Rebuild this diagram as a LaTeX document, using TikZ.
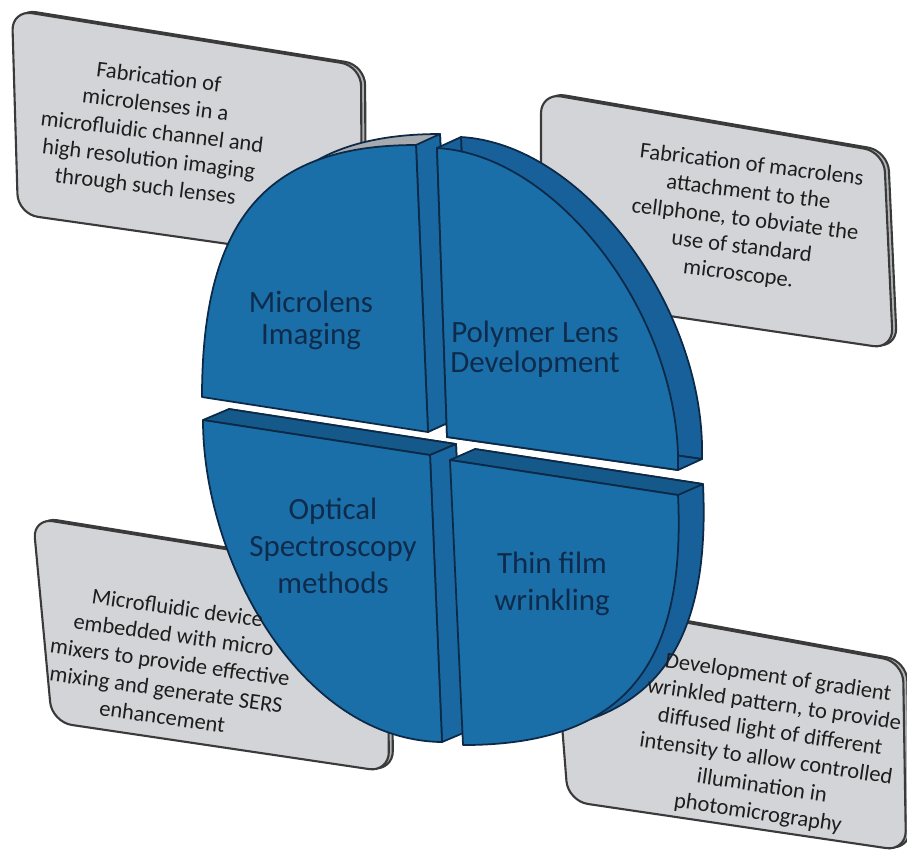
\documentclass[tikz,border=0pt]{standalone}
\usepackage{fontspec}
\setmainfont{Carlito}
\definecolor{discfront}{HTML}{1A6FA8}
\definecolor{discside}{HTML}{17609A}
\definecolor{disccut}{HTML}{1968A1}
\definecolor{disctop}{HTML}{15598A}
\definecolor{topgray}{HTML}{A7AAAE}
\definecolor{discline}{HTML}{0C2A47}
\definecolor{labelnavy}{HTML}{0F2B4C}
\definecolor{cardgray}{HTML}{D3D4D7}
\definecolor{cardedge}{HTML}{B4B5B8}
\definecolor{cardline}{HTML}{3A3A3A}
\definecolor{notetext}{HTML}{1E1E1E}
\begin{document}
\begin{tikzpicture}[x=0.01cm,y=-0.01cm,
  card/.style={fill=cardgray,draw=cardline,line width=0.6pt,rounded corners=0.2cm,line join=round},
  cardback/.style={card,fill=cardedge},
  front/.style={fill=discfront,draw=discline,line width=0.5pt,line join=round},
  rim/.style={fill=discside,draw=discline,line width=0.5pt,line join=round},
  cutface/.style={fill=disccut,draw=discline,line width=0.5pt,line join=round},
  topface/.style={fill=disctop,draw=discline,line width=0.5pt,line join=round},
  grayrim/.style={fill=topgray,draw=discline,line width=0.5pt,line join=round},
  label/.style={text=labelnavy,align=center,inner sep=0pt},
  note/.style={text=notetext,align=center,inner sep=0pt,font=\fontsize{6.4}{7.8}\selectfont}]

\useasboundingbox (0,0) rectangle (907,853);

% ---- callout cards (drawn behind the disc) ----
\def\cardA{(12,10) -- (361,66) -- (362,263) -- (18,214) -- cycle}
\def\cardB{(541,93) -- (884,152) -- (893,349) -- (541,297) -- cycle}
\def\cardC{(33,518) -- (387,575) -- (389,772) -- (52,722) -- cycle}
\def\cardD{(552,598) -- (903,662) -- (906,851) -- (568,801) -- cycle}
\draw[cardback,shift={(4,-1)}] \cardA;  \draw[card] \cardA;
\draw[cardback,shift={(4,-1)}] \cardB;  \draw[card] \cardB;
\draw[cardback,shift={(4,-1)}] \cardC;  \draw[card] \cardC;
\draw[cardback,shift={(4,-1)}] \cardD;  \draw[card] \cardD;

% ---- disc, upper-left quarter ----
\def\tlfront{(416,145) .. controls (270,145) and (202,215) .. (202,397) -- (428,432) -- cycle}
\draw[grayrim,shift={(24,-11)}] \tlfront;
\draw[cutface] (416,145) -- (440,134) -- (452,421) -- (428,432) -- cycle;
\draw[front] \tlfront;

% ---- disc, upper-right quarter ----
\def\trfront{(437,148) .. controls (560,155) and (682,320) .. (678,470) -- (447,437) -- cycle}
\draw[rim,shift={(24,-11)}] \trfront;
\draw[rim] (437,148) -- (461,137) -- (471,426) -- (447,437) -- cycle;
\draw[rim] (447,437) -- (678,470) -- (702,459) -- (471,426) -- cycle;
\draw[front] \trfront;

% ---- disc, lower-left quarter ----
\def\blfront{(203,420) -- (430,455) -- (442,742) .. controls (300,740) and (203,560) .. (203,420) -- cycle}
\draw[rim,shift={(26,-11)}] \blfront;
\draw[topface] (203,420) -- (229,409) -- (456,444) -- (430,455) -- cycle;
\draw[cutface] (430,455) -- (456,444) -- (468,731) -- (442,742) -- cycle;
\draw[front] \blfront;

% ---- disc, lower-right quarter ----
\def\brfront{(450,460) -- (678,495) .. controls (686,665) and (625,745) .. (463,745) -- cycle}
\draw[rim,shift={(25,-11)}] \brfront;
\draw[topface] (450,460) -- (475,449) -- (703,484) -- (678,495) -- cycle;
\draw[front] \brfront;

% ---- quarter titles ----
\node[label,font=\fontsize{8.8}{9.1}\selectfont] (microlens) at (311,320) {Microlens\\Imaging};
\node[label,font=\fontsize{8.8}{8.5}\selectfont] (polymer) at (535,349) {Polymer Lens\\Development};
\node[label,font=\fontsize{8.8}{10.5}\selectfont] (optical) at (333,546) {Optical\\Spectroscopy\\methods};
\node[label,font=\fontsize{8.8}{10.5}\selectfont] (thinfilm) at (552,584) {Thin film\\wrinkling};

% ---- callout texts ----
\node[note,rotate=-7] (noteA) at (152,133) {Fabrication of\\microlenses in a\\microfluidic channel and\\high resolution imaging\\through such lenses};
\node[note,rotate=-7] (noteB) at (745,220) {Fabrication of macrolens\\attachment to the\\cellphone, to obviate the\\use of standard\\microscope.};
\node[note,rotate=-8] (noteC) at (170,662) {Microfluidic device\\embedded with micro\\mixers to provide effective\\mixing and generate SERS\\enhancement};
\node[note,rotate=-8.5] (noteD) at (768,746) {Development of gradient\\wrinkled pattern, to provide\\diffused light of different\\intensity to allow controlled\\illumination in\\photomicrography};
\end{tikzpicture}
\end{document}
